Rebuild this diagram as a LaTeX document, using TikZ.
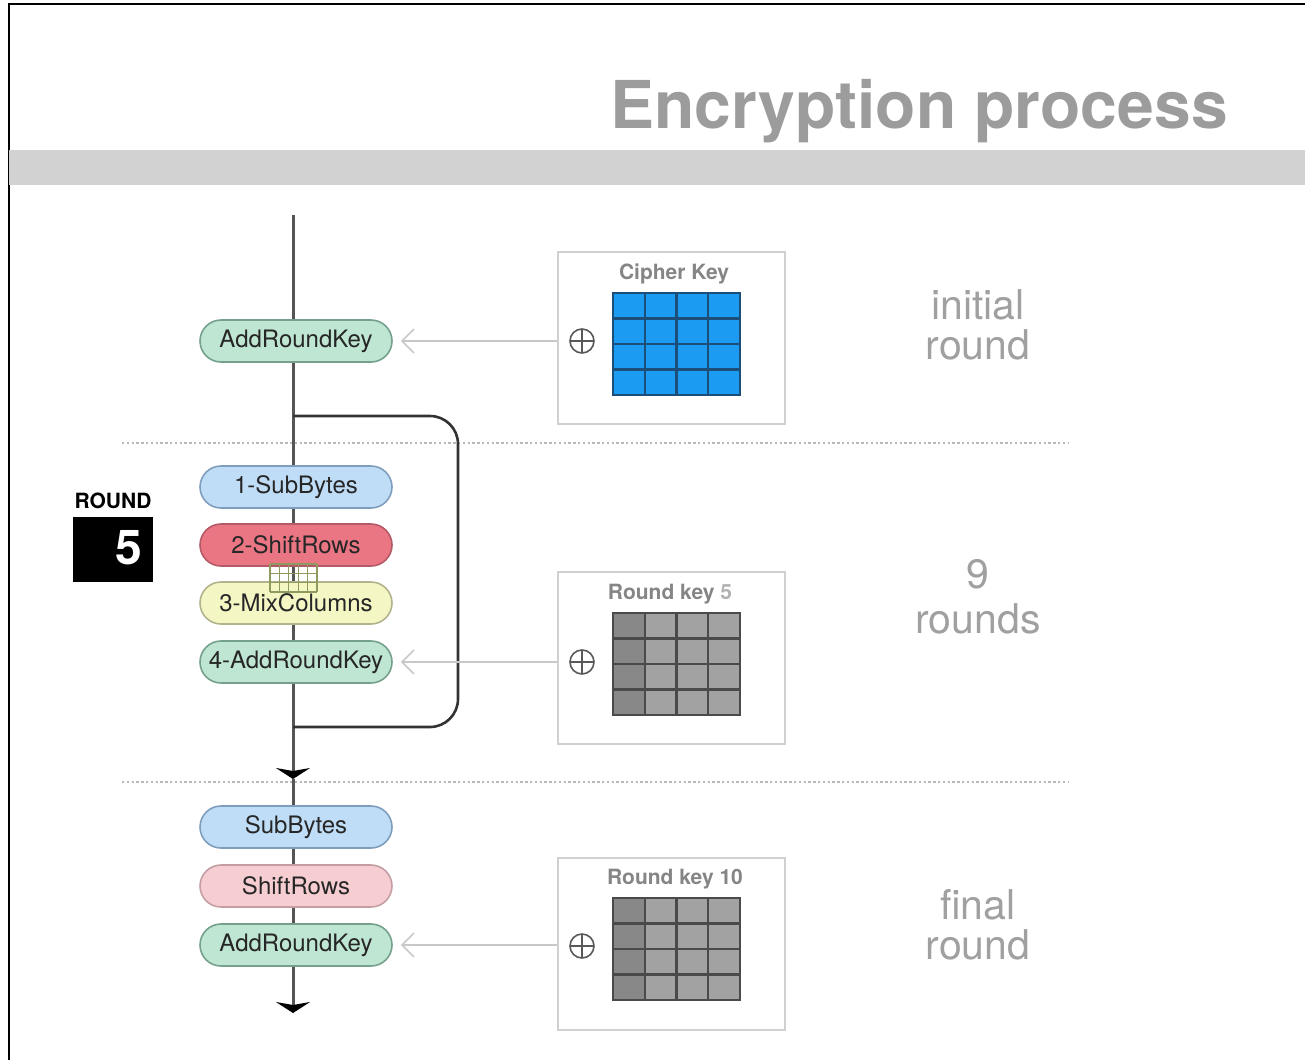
\documentclass[tikz,border=0pt]{standalone}
\usepackage{fontspec}
\setmainfont{TeX Gyre Heros}
\usetikzlibrary{arrows.meta}

\definecolor{bandgray}{HTML}{D2D2D2}
\definecolor{titlegray}{HTML}{9C9C9C}
\definecolor{flowline}{HTML}{555555}
\definecolor{pilltext}{HTML}{262626}
\definecolor{greenfill}{HTML}{BFE6D3}
\definecolor{greendraw}{HTML}{74A08C}
\definecolor{bluefill}{HTML}{BFDDF6}
\definecolor{bluedraw}{HTML}{7F9DBD}
\definecolor{redfill}{HTML}{EA7684}
\definecolor{reddraw}{HTML}{B45A66}
\definecolor{yellowfill}{HTML}{F4F6C4}
\definecolor{yellowdraw}{HTML}{B2B28C}
\definecolor{pinkfill}{HTML}{F6CED2}
\definecolor{pinkdraw}{HTML}{C49EA2}
\definecolor{boxgray}{HTML}{D0D0D0}
\definecolor{keyarrowgray}{HTML}{C8C8C8}
\definecolor{keytitle}{HTML}{858585}
\definecolor{keyblue}{HTML}{1C9BF2}
\definecolor{keyblueline}{HTML}{1B4F7A}
\definecolor{keydark}{HTML}{888888}
\definecolor{keylight}{HTML}{A2A2A2}
\definecolor{keygrayline}{HTML}{4A4A4A}
\definecolor{sidegray}{HTML}{A0A0A0}
\definecolor{dotgray}{HTML}{B8B8B8}
\definecolor{minigrid}{HTML}{8E9A5E}

\begin{document}
\begin{tikzpicture}[x=0.5pt,y=-0.5pt,
  pill/.style 2 args={draw=#2, fill=#1, line width=0.8pt, rounded corners=10.5pt,
    minimum width=96pt, minimum height=21pt, inner sep=0pt,
    text=pilltext, font=\fontsize{12}{14}\selectfont},
  flow/.style={draw=flowline, line width=1.5pt},
  flowarrow/.style={flow, -{Stealth[length=5.5pt,width=17pt,inset=1.5pt,color=black]}},
  roundloop/.style={draw=black!80, line width=1.3pt, rounded corners=14pt},
  keybox/.style={draw=boxgray, line width=1pt, minimum width=113.5pt,
    minimum height=86pt, inner sep=0pt},
  keytitlestyle/.style={text=keytitle, font=\bfseries\fontsize{10.5}{12}\selectfont},
  keyarrow/.style={draw=keyarrowgray, line width=0.8pt,
    -{Straight Barb[length=6pt,width=12pt]}, shorten >=4pt},
  xorsign/.style={circle, draw=black!65, line width=0.8pt, minimum size=12pt,
    inner sep=0pt,
    path picture={\draw[black!65, line width=0.8pt]
      (path picture bounding box.north) -- (path picture bounding box.south)
      (path picture bounding box.west) -- (path picture bounding box.east);}},
  sidelabel/.style={text=sidegray, align=center,
    font=\fontsize{20.5}{20}\selectfont},
  separator/.style={draw=dotgray, line width=0.8pt, dash pattern=on 1.2pt off 1.2pt},
]
\useasboundingbox (0,0) rectangle (1305,1060);

% frame and header
\draw[black, line width=1pt] (9,1060) -- (9,4) -- (1305,4);
\fill[bandgray] (9,150) rectangle (1305,185);
\node[anchor=base, text=titlegray, font=\bfseries\fontsize{33}{36}\selectfont]
  (title) at (919,128) {Encryption process};

% round separators
\draw[separator] (122,443) -- (1068,443);
\draw[separator] (122,782) -- (1068,782);

% round badge
\node[anchor=base, font=\bfseries\fontsize{10.5}{12}\selectfont] (roundtxt) at (113,508) {ROUND};
\node[fill=black, minimum width=40pt, minimum height=32.5pt, inner sep=0pt] (roundbox) at (113,549.5) {};
\node[text=white, font=\bfseries\fontsize{24}{26}\selectfont] (roundnum) at (129,548) {5};

% step pills
\node[pill={greenfill}{greendraw}]  (ark0) at (296,341) {AddRoundKey};
\node[pill={bluefill}{bluedraw}]    (sb1)  at (296,487) {1-SubBytes};
\node[pill={redfill}{reddraw}]      (sr1)  at (296,545) {2-ShiftRows};
\node[pill={yellowfill}{yellowdraw}](mc1)  at (296,603) {3-MixColumns};
\node[pill={greenfill}{greendraw}]  (ark1) at (296,662) {4-AddRoundKey};
\node[pill={bluefill}{bluedraw}]    (sb2)  at (296,827) {SubBytes};
\node[pill={pinkfill}{pinkdraw}]    (sr2)  at (296,886) {ShiftRows};
\node[pill={greenfill}{greendraw}]  (ark2) at (296,945) {AddRoundKey};

% main data path
\coordinate (start)   at (293,215);
\coordinate (loopin)  at (293,416);
\coordinate (loopout) at (293,727);
\coordinate (midtip)  at (293,779);
\coordinate (endtip)  at (293,1013);
\draw[flow] (start) -- (start |- ark0.north);
\draw[flow] (start |- ark0.south) -- (start |- sb1.north);
\draw[flow] (start |- sb1.south) -- (start |- sr1.north);
\draw[flow] (start |- sr1.south) -- (start |- mc1.north);
\draw[flow] (start |- mc1.south) -- (start |- ark1.north);
\draw[flowarrow] (start |- ark1.south) -- (midtip);
\draw[flow] (midtip) -- (start |- sb2.north);
\draw[flow] (start |- sb2.south) -- (start |- sr2.north);
\draw[flow] (start |- sr2.south) -- (start |- ark2.north);
\draw[flowarrow] (start |- ark2.south) -- (endtip);

% repeat loop round the middle steps
\draw[roundloop] (loopin) -- (458,416) -- (458,727) -- (loopout);

% state grid between ShiftRows and MixColumns
\foreach \i in {0,...,5} \draw[minigrid, line width=0.6pt] ({270+\i*9.4},564) -- ({270+\i*9.4},592);
\foreach \j in {0,...,3} \draw[minigrid, line width=0.6pt] (270,{564+\j*9.33}) -- (317,{564+\j*9.33});

% key boxes
\node[keybox] (key0) at (671.5,338) {};
\node[keybox] (key1) at (671.5,658) {};
\node[keybox] (key2) at (671.5,943.5) {};
\node[keytitlestyle] (key0t) at (674,274) {Cipher Key};
\node[keytitlestyle] (key1t) at (670,594) {Round key \textcolor{black!30}{5}};
\node[keytitlestyle] (key2t) at (675,879) {Round key 10};

\node[xorsign] (xor0) at (582,341) {};
\node[xorsign] (xor1) at (582,662) {};
\node[xorsign] (xor2) at (582,946) {};

% cipher key matrix
\foreach \c in {0,...,3}
  \foreach \r in {0,...,3}
    \draw[fill=keyblue, draw=keyblueline, line width=1.1pt]
      ({613+\c*31.75},{293+\r*25.5}) rectangle ++(31.75,25.5);
% round key matrices
\foreach \yy in {613,898}{
  \foreach \r in {0,...,3}{
    \draw[fill=keydark, draw=keygrayline, line width=1.1pt]
      (613,{\yy+\r*25.5}) rectangle ++(31.75,25.5);
    \foreach \c in {1,...,3}
      \draw[fill=keylight, draw=keygrayline, line width=1.1pt]
        ({613+\c*31.75},{\yy+\r*25.5}) rectangle ++(31.75,25.5);
  }
}

% key feeds
\draw[keyarrow] (key0.west |- ark0) -- (ark0.east);
\draw[keyarrow] (key1.west |- ark1) -- (ark1.east);
\draw[keyarrow] (key2.west |- ark2) -- (ark2.east);

% phase labels
\node[sidelabel] (lab0) at (978,325) {initial\\round};
\node[sidelabel, font=\fontsize{20.5}{22.5}\selectfont] (lab1) at (978,597) {9\\rounds};
\node[sidelabel] (lab2) at (978,925) {final\\round};
\end{tikzpicture}
\end{document}
